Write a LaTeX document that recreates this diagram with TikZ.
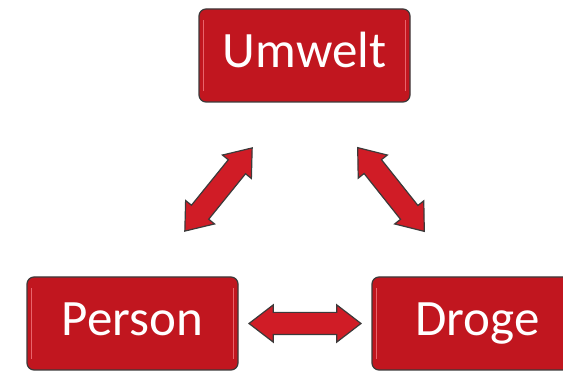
\documentclass[tikz,border=0pt]{standalone}
\usepackage{fontspec}
\setmainfont{Carlito}
\usetikzlibrary{shapes.arrows,calc}
\definecolor{boxrot}{HTML}{C1161F}
\definecolor{pfeilrot}{HTML}{D01C26}
\definecolor{rand}{HTML}{3C3A3A}
\definecolor{glanz}{HTML}{E8646B}
\begin{document}
\begin{tikzpicture}[x=1pt,y=1pt,
	every node/.style={draw=rand, line width=1.2pt},
	kasten/.style={fill=boxrot, rounded corners=7pt, minimum width=211pt, minimum height=93pt, text height=36pt, text depth=12pt, text=white, font=\fontsize{51}{54}\selectfont},
	pfeil/.style={double arrow, fill=pfeilrot, inner xsep=0pt, inner ysep=10.5pt, double arrow head extend=7.5pt, double arrow tip angle=75, minimum height=107pt}]

\useasboundingbox (0,0) rectangle (563,372);

	\node[kasten] (umwelt) at (304.5,316.5) {Umwelt};
	\node[kasten] (person) at (132.5,48.5) {Person};
	\node[kasten] (droge) at (477.5,48.5) {Droge};

\foreach \k in {umwelt,person,droge}{
	\draw[glanz, line width=1pt] ([xshift=5pt,yshift=-12pt]\k.north west) -- ([xshift=5pt,yshift=12pt]\k.south west);
	\draw[glanz, line width=1pt] ([xshift=-5pt,yshift=-12pt]\k.north east) -- ([xshift=-5pt,yshift=12pt]\k.south east);
}

	\node[pfeil, rotate=51] (p1) at ($(umwelt.south west)!.5!(person.north east)$) {};
	\node[pfeil, rotate=-51.5] (p2) at ($(umwelt.south east)!.5!(droge.north west)$) {};
	\node[pfeil, minimum height=112pt] (p3) at ($(person.east)!.5!(droge.west)$) {};
\end{tikzpicture}
\end{document}
